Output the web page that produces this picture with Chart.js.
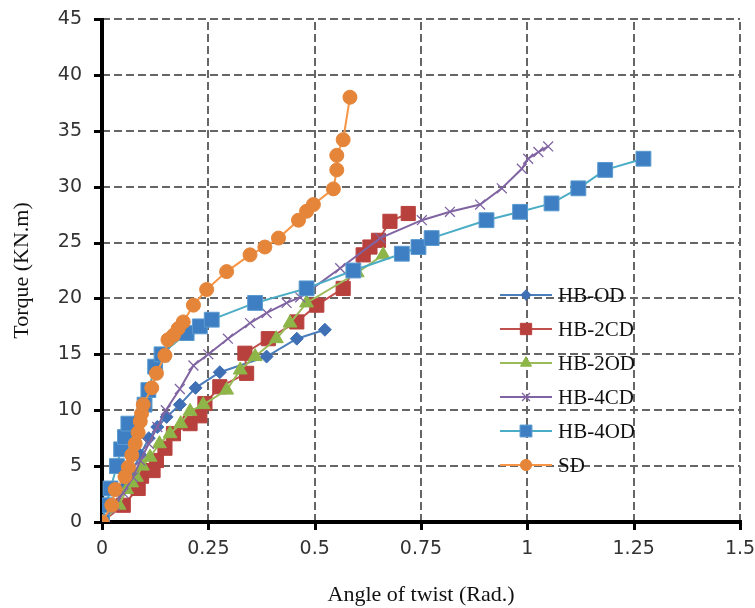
<!DOCTYPE html>
<html>
<head>
<meta charset="utf-8">
<script src="https://cdn.jsdelivr.net/npm/chart.js@4"></script>
<style>
  html, body { margin: 0; padding: 0; background: #fff; }
  #wrap { width: 755px; height: 608px; }
</style>
</head>
<body>
<div id="wrap"><canvas id="torque-chart" width="755" height="608"></canvas></div>
<script>
// Angle of twist (Rad.) and torque (KN.m)
const hbOdX = [0, 0.03, 0.05, 0.07, 0.09, 0.11, 0.13, 0.152, 0.183, 0.22, 0.277, 0.387, 0.458, 0.524];
const hbOdY = [0, 1.5, 3, 4.5, 6, 7.5, 8.5, 9.4, 10.5, 12.0, 13.4, 14.8, 16.4, 17.2];

const hb2cdX = [0, 0.05, 0.085, 0.093, 0.12, 0.128, 0.148, 0.168, 0.207, 0.23, 0.242, 0.277, 0.34, 0.336, 0.391, 0.458, 0.505, 0.567, 0.614, 0.63, 0.65, 0.677, 0.72];
const hb2cdY = [0, 1.5, 3.0, 4.1, 4.6, 5.5, 6.6, 7.9, 8.8, 9.5, 10.6, 12.1, 13.3, 15.1, 16.4, 17.9, 19.4, 20.9, 23.9, 24.6, 25.2, 26.9, 27.6];

const hb2odX = [0, 0.04, 0.058, 0.07, 0.081, 0.095, 0.113, 0.135, 0.16, 0.185, 0.207, 0.238, 0.293, 0.325, 0.36, 0.41, 0.442, 0.481, 0.6, 0.661];
const hb2odY = [0, 1.5, 2.9, 3.5, 4.0, 5.0, 5.8, 7.0, 7.9, 8.8, 9.9, 10.5, 11.8, 13.6, 14.8, 16.4, 17.8, 19.6, 22.3, 23.9];

const hb4cdX = [0, 0.03, 0.05, 0.073, 0.09, 0.11, 0.13, 0.15, 0.183, 0.215, 0.25, 0.296, 0.348, 0.387, 0.434, 0.466, 0.56, 0.654, 0.752, 0.818, 0.889, 0.94, 0.987, 1.002, 1.026, 1.049];
const hb4cdY = [0, 1.5, 2.6, 4.0, 5.5, 7.0, 8.5, 10.0, 11.9, 14.0, 15.0, 16.4, 17.8, 18.7, 19.6, 20.1, 22.7, 25.4, 27.0, 27.75, 28.4, 29.85, 31.6, 32.5, 33.1, 33.6];

const hb4odX = [0, 0.01, 0.02, 0.035, 0.045, 0.054, 0.062, 0.1, 0.109, 0.125, 0.14, 0.199, 0.23, 0.258, 0.36, 0.481, 0.591, 0.705, 0.744, 0.775, 0.904, 0.983, 1.057, 1.12, 1.183, 1.273];
const hb4odY = [0, 1.5, 3.0, 5.0, 6.5, 7.6, 8.8, 10.5, 11.8, 13.9, 15.0, 16.9, 17.5, 18.1, 19.6, 20.9, 22.5, 24.0, 24.6, 25.4, 27.0, 27.75, 28.5, 29.85, 31.5, 32.5];

const sdX = [0, 0.023, 0.031, 0.054, 0.062, 0.07, 0.078, 0.085, 0.09, 0.093, 0.097, 0.117, 0.128, 0.148, 0.155, 0.168, 0.179, 0.191, 0.215, 0.246, 0.293, 0.348, 0.383, 0.415, 0.462, 0.481, 0.497, 0.544, 0.552, 0.552, 0.567, 0.583];
const sdY = [0, 1.5, 2.9, 4.05, 4.9, 6.0, 7.0, 8.0, 9.0, 9.7, 10.5, 12.0, 13.3, 14.9, 16.3, 16.7, 17.3, 17.9, 19.4, 20.8, 22.4, 23.9, 24.6, 25.4, 27.0, 27.8, 28.4, 29.8, 31.5, 32.8, 34.2, 38.0];

const seriesNames = ['HB-OD', 'HB-2CD', 'HB-2OD', 'HB-4CD', 'HB-4OD', 'SD'];

// tick values of the two axes
const xTicks = [0, 0.25, 0.5, 0.75, 1, 1.25, 1.5];
const yTicks = [0, 5, 10, 15, 20, 25, 30, 35, 40, 45];

function toPoints(xs, ys) {
    return xs.map((x, i) => ({ x: x, y: ys[i] }));
}

const styles = [
    { line: '#4A7EBB', fill: '#3F70B5', stroke: '#3F70B5', point: 'rectRot', radius: 6.5, width: 1 },
    { line: '#C0504D', fill: '#B8413D', stroke: '#B8413D', point: 'rect', radius: 10, width: 1 },
    { line: '#9BBB59', fill: '#8DB548', stroke: '#8DB548', point: 'triangle', radius: 8, width: 1 },
    { line: '#8064A2', fill: 'rgba(0,0,0,0)', stroke: '#8064A2', point: 'crossRot', radius: 7, width: 1.3 },
    { line: '#4BACC6', fill: '#3E7EC2', stroke: '#5A9BD0', point: 'rect', radius: 10.5, width: 1 },
    { line: '#F79646', fill: '#E4853A', stroke: '#E4853A', point: 'circle', radius: 7, width: 1 }
];

const allData = [
    toPoints(hbOdX, hbOdY),
    toPoints(hb2cdX, hb2cdY),
    toPoints(hb2odX, hb2odY),
    toPoints(hb4cdX, hb4cdY),
    toPoints(hb4odX, hb4odY),
    toPoints(sdX, sdY)
];

const datasets = seriesNames.map((name, i) => ({
    label: name,
    data: allData[i],
    borderColor: styles[i].line,
    borderWidth: 2,
    backgroundColor: styles[i].fill,
    pointBackgroundColor: styles[i].fill,
    pointBorderColor: styles[i].stroke,
    pointBorderWidth: styles[i].width,
    pointStyle: styles[i].point,
    pointRadius: styles[i].radius,
    showLine: true,
    fill: false,
    tension: 0,
    order: 5 - i  // SD on top, like the original
}));

// grid, axes and tick marks as filled rectangles, under the data
const excelGrid = {
    id: 'excelGrid',
    beforeDatasetsDraw(chart) {
        const ctx = chart.ctx;
        const area = chart.chartArea;
        const xs = chart.scales.x, ys = chart.scales.y;
        const dash = 8, gap = 4;
        ctx.save();
        ctx.fillStyle = '#666666';
        xTicks.forEach(v => {
            if (v === 0) return;
            const px = Math.round(xs.getPixelForValue(v)) - 1;
            for (let y = area.bottom; y > area.top; y -= dash + gap) {
                const h = Math.min(dash, y - area.top);
                ctx.fillRect(px, y - h, 2, h);
            }
        });
        yTicks.forEach(v => {
            if (v === 0) return;
            const py = Math.round(ys.getPixelForValue(v)) - 1;
            for (let x = area.left; x < area.right; x += dash + gap) {
                ctx.fillRect(x, py, Math.min(dash, area.right - x), 2);
            }
        });
        ctx.fillStyle = '#000';
        xTicks.forEach(v => {
            const px = Math.round(xs.getPixelForValue(v));
            ctx.fillRect(px - 1, area.bottom, 3, 8);
        });
        yTicks.forEach(v => {
            const py = Math.round(ys.getPixelForValue(v));
            ctx.fillRect(area.left - 8, py - 1, 8, 3);
        });
        ctx.fillRect(area.left - 2, area.top - 1, 4, area.bottom - area.top + 3);
        ctx.fillRect(area.left - 2, area.bottom - 2, area.right - area.left + 4, 4);
        ctx.restore();
    }
};

// Legend drawn inside the plot, like the spreadsheet chart
const insideLegend = {
    id: 'insideLegend',
    afterDraw(chart) {
        const ctx = chart.ctx;
        const x0 = 500, x1 = 552, tx = 558;
        ctx.save();
        seriesNames.forEach((name, i) => {
            const y = 295 + i * 34;
            const s = styles[i];
            ctx.strokeStyle = s.line;
            ctx.lineWidth = 2;
            ctx.beginPath();
            ctx.moveTo(x0, y);
            ctx.lineTo(x1, y);
            ctx.stroke();
            ctx.fillStyle = s.fill;
            ctx.strokeStyle = s.stroke;
            ctx.lineWidth = s.width;
            Chart.helpers.drawPoint(ctx, { pointStyle: s.point, radius: s.radius * 0.8, borderWidth: s.width, rotation: 0 }, (x0 + x1) / 2, y);
            ctx.fillStyle = '#111';
            ctx.font = '21px "Liberation Serif", "Times New Roman", serif';
            ctx.textAlign = 'left';
            ctx.textBaseline = 'middle';
            ctx.fillText(name, tx, y + 1);
        });
        ctx.restore();
    }
};

const tickFont = { family: '"DejaVu Sans", Verdana, sans-serif', size: 19 };
const titleFont = { family: '"Liberation Serif", "Times New Roman", serif', size: 22 };

new Chart(document.getElementById('torque-chart'), {
    type: 'line',
    data: { datasets: datasets },
    options: {
        responsive: false,
        animation: false,
        layout: { padding: { top: 19, right: 15, left: 0, bottom: 0 } },
        scales: {
            x: {
                type: 'linear',
                min: 0,
                max: 1.5,
                ticks: {
                    stepSize: 0.25,
                    color: '#333',
                    font: tickFont,
                    padding: 16,
                    maxRotation: 0,
                    callback: v => String(v)
                },
                grid: { display: false, drawTicks: false },
                border: { display: false },
                title: {
                    display: true,
                    text: 'Angle of twist (Rad.)',
                    color: '#111',
                    font: titleFont,
                    padding: { top: 0, bottom: 0 }
                },
                afterFit(scale) {
                    scale.height = 86;
                    scale.paddingLeft = 0;
                    scale.paddingRight = 0;
                }
            },
            y: {
                min: 0,
                max: 45,
                ticks: {
                    stepSize: 5,
                    color: '#333',
                    font: tickFont,
                    padding: 20
                },
                grid: { display: false, drawTicks: false },
                border: { display: false },
                title: {
                    display: true,
                    text: 'Torque (KN.m)',
                    color: '#111',
                    font: titleFont,
                    padding: { top: 9, bottom: 0 }
                },
                afterFit(scale) {
                    scale.width = 102;
                    scale.paddingTop = 0;
                    scale.paddingBottom = 0;
                }
            }
        },
        plugins: {
            legend: { display: false },
            tooltip: { enabled: false }
        }
    },
    plugins: [excelGrid, insideLegend]
});
</script>
</body>
</html>
